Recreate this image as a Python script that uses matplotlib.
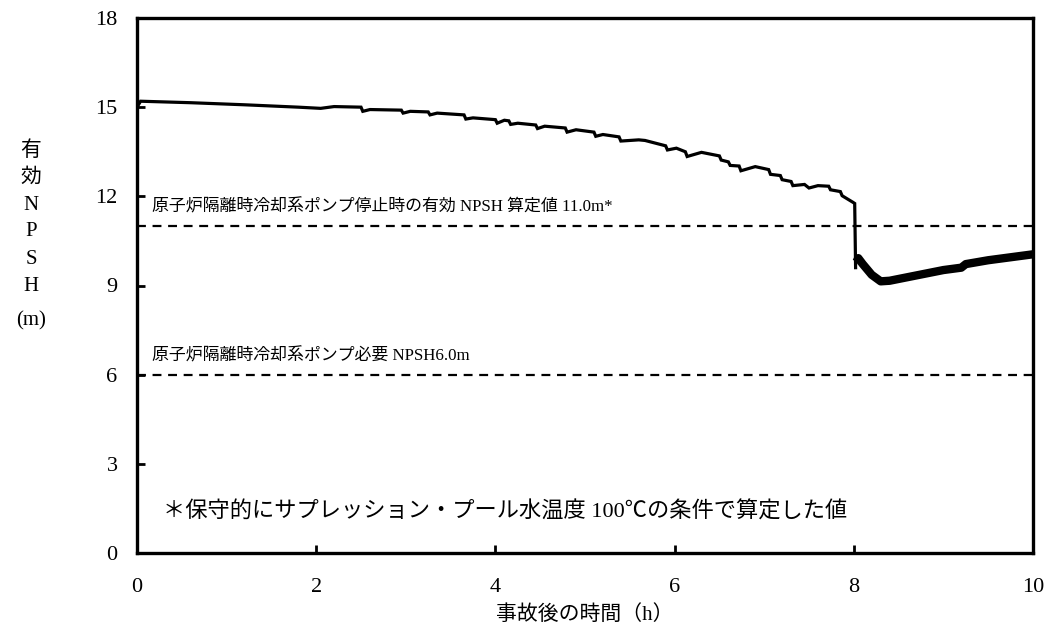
import numpy as np
import matplotlib
matplotlib.use("Agg")
import matplotlib.pyplot as plt

# NPSH curve (time h, NPSH m)
t_before = [0.00, 0.04, 0.60, 1.20, 1.80, 2.05, 2.20, 2.50, 2.52, 2.60, 2.95, 2.97, 3.05, 3.25,
            3.27, 3.35, 3.65, 3.67, 3.75, 4.00, 4.02, 4.10, 4.15, 4.17, 4.25, 4.45, 4.47, 4.55,
            4.78, 4.80, 4.90, 5.10, 5.12, 5.20, 5.38, 5.40, 5.60, 5.67, 5.90, 5.92, 6.02, 6.12,
            6.14, 6.30, 6.50, 6.52, 6.60, 6.62, 6.72, 6.74, 6.90, 7.05, 7.07, 7.18, 7.20, 7.30,
            7.32, 7.45, 7.50, 7.60, 7.72, 7.74, 7.85, 7.87, 7.99, 8.01, 8.02]
npsh_before = [15.00, 15.20, 15.15, 15.08, 15.00, 14.96, 15.02, 15.00, 14.86, 14.92, 14.90, 14.80,
               14.86, 14.84, 14.74, 14.80, 14.74, 14.60, 14.64, 14.58, 14.46, 14.56, 14.54, 14.42,
               14.46, 14.40, 14.28, 14.36, 14.30, 14.16, 14.24, 14.16, 14.02, 14.08, 14.00, 13.86,
               13.90, 13.88, 13.70, 13.56, 13.62, 13.50, 13.34, 13.48, 13.36, 13.22, 13.16, 13.04,
               13.02, 12.86, 13.00, 12.90, 12.74, 12.70, 12.56, 12.50, 12.36, 12.40, 12.28, 12.36,
               12.34, 12.22, 12.16, 12.02, 11.80, 11.76, 9.60]

t_after = [8.03, 8.05, 8.10, 8.20, 8.30, 8.40, 8.60, 8.80, 9.00, 9.20, 9.25, 9.50, 9.75, 10.00]
npsh_after = [9.80, 9.92, 9.72, 9.36, 9.14, 9.16, 9.28, 9.40, 9.52, 9.60, 9.72, 9.85, 9.95, 10.05]

stop_npsh = 11.0
required_npsh = 6.0

xticks = [0, 2, 4, 6, 8, 10]
yticks = [0, 3, 6, 9, 12, 15, 18]

serif = 'Liberation Serif'
mix = [serif, 'Noto Sans CJK JP', 'DejaVu Sans']

fig = plt.figure(figsize=(10.56, 6.34), dpi=100)
ax = fig.add_axes([137 / 1056, 81 / 634, 896 / 1056, 535 / 634])

ax.plot(t_before, npsh_before, color='black', lw=2.3, solid_joinstyle='miter')
ax.plot([t_before[-1]] + t_after, [npsh_before[-1]] + npsh_after, color='black', lw=1.5)
ax.plot(t_after, npsh_after, color='black', lw=6, solid_capstyle='butt')

ax.axhline(stop_npsh, color='black', lw=1.6, dashes=(4, 3))
ax.axhline(required_npsh, color='black', lw=1.6, dashes=(4, 3))

ax.set_xlim(0, 10)
ax.set_ylim(0, 18)
ax.set_xticks(xticks)
ax.set_yticks(yticks)
ax.tick_params(direction='in', length=6, width=2, labelsize=16)
ax.tick_params(axis='x', pad=18)
ax.tick_params(axis='y', pad=14)
for lab in ax.get_xticklabels() + ax.get_yticklabels():
    lab.set_fontfamily(serif)
for s in ax.spines.values():
    s.set_linewidth(2.4)

ax.text(0.17, 11.35, '原子炉隔離時冷却系ポンプ停止時の有効 NPSH 算定値 11.0m*',
        family=mix, fontsize=12.2, ha='left', va='bottom')
ax.text(0.17, 6.35, '原子炉隔離時冷却系ポンプ必要 NPSH6.0m',
        family=mix, fontsize=12.2, ha='left', va='bottom')
ax.text(0.29, 1.38, '＊保守的にサプレッション・プール水温度 100℃の条件で算定した値',
        family=mix, fontsize=16, ha='left', va='center')

ax.set_xlabel('事故後の時間（h）', family=mix, fontsize=15, labelpad=6)

# vertical y label, one character per line
ylab = ['有', '効', 'N', 'P', 'S', 'H']
for i, ch in enumerate(ylab):
    fig.text(31 / 1056, 1 - (151 + i * 27) / 634, ch, family=mix, fontsize=15,
             ha='center', va='center')
fig.text(31 / 1056, 1 - 321 / 634, '(m)', family=mix, fontsize=15, ha='center', va='center')

fig.savefig('out.png', dpi=100)
